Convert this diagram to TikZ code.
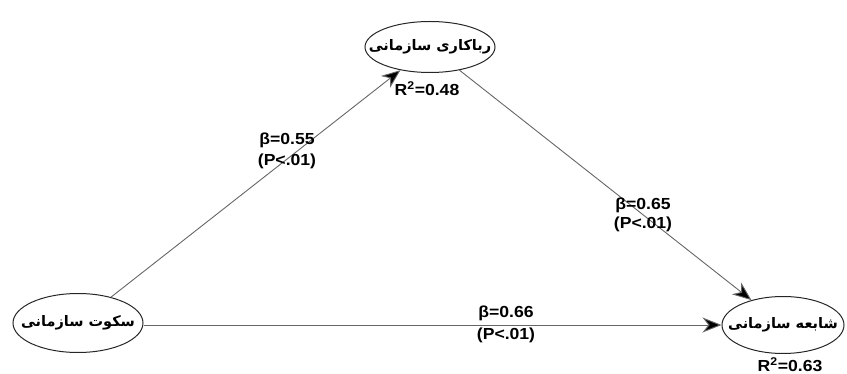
\documentclass[tikz,border=0pt]{standalone}
\usepackage{fontspec}
\setmainfont{Liberation Sans}
\newfontfamily\arabicfont[Script=Arabic]{DejaVu Sans}
\TeXXeTstate=1
\usetikzlibrary{shapes.geometric,arrows.meta}
% Persian label centred inside an ellipse of fixed size
\newcommand{\fatext}[1]{\makebox[0pt]{\beginR #1\endR}}
\tikzset{
  construct/.style={draw=black!85, line width=1pt, ellipse, inner sep=0pt,
    font=\arabicfont\bfseries\fontsize{14.5}{16}\selectfont},
  path/.style={draw=black!60, line width=0.9pt,
    -{Stealth[length=19pt,width=15pt,inset=6pt,fill=black]}},
  stat/.style={font=\bfseries\fontsize{16}{18}\selectfont, inner sep=0pt, xscale=1.1}
}
\begin{document}
\begin{tikzpicture}[x=1pt,y=-1pt]
\useasboundingbox (0,0) rectangle (847,374);
% latent constructs
\node[construct, minimum width=130pt, minimum height=51pt] (riya) at (430,47)
  {\fatext{رباکاری سازمانی}};
\node[construct, minimum width=130pt, minimum height=59pt] (sokoot) at (78,323)
  {\fatext{سکوت سازمانی}};
\node[construct, minimum width=122pt, minimum height=57pt] (shaye) at (783,325)
  {\fatext{شابعه سازمانی}};
% structural paths
\draw[path] (sokoot) -- (riya);
\draw[path] (riya) -- (shaye);
\draw[path] (sokoot.east |- 0,325) -- (shaye.west);
% coefficients
\node[stat] (b1) at (287,140) {β=0.55};
\node[stat] (p1) at (287,161) {(P<.01)};
\node[stat] (b2) at (643,205) {β=0.65};
\node[stat] (p2) at (643,224) {(P<.01)};
\node[stat] (b3) at (506,313) {β=0.66};
\node[stat] (p3) at (506,335) {(P<.01)};
% explained variance
\node[stat] (r1) at (427,89) {R\textsuperscript{2}=0.48};
\node[stat] (r2) at (790,365) {R\textsuperscript{2}=0.63};
\end{tikzpicture}
\end{document}
